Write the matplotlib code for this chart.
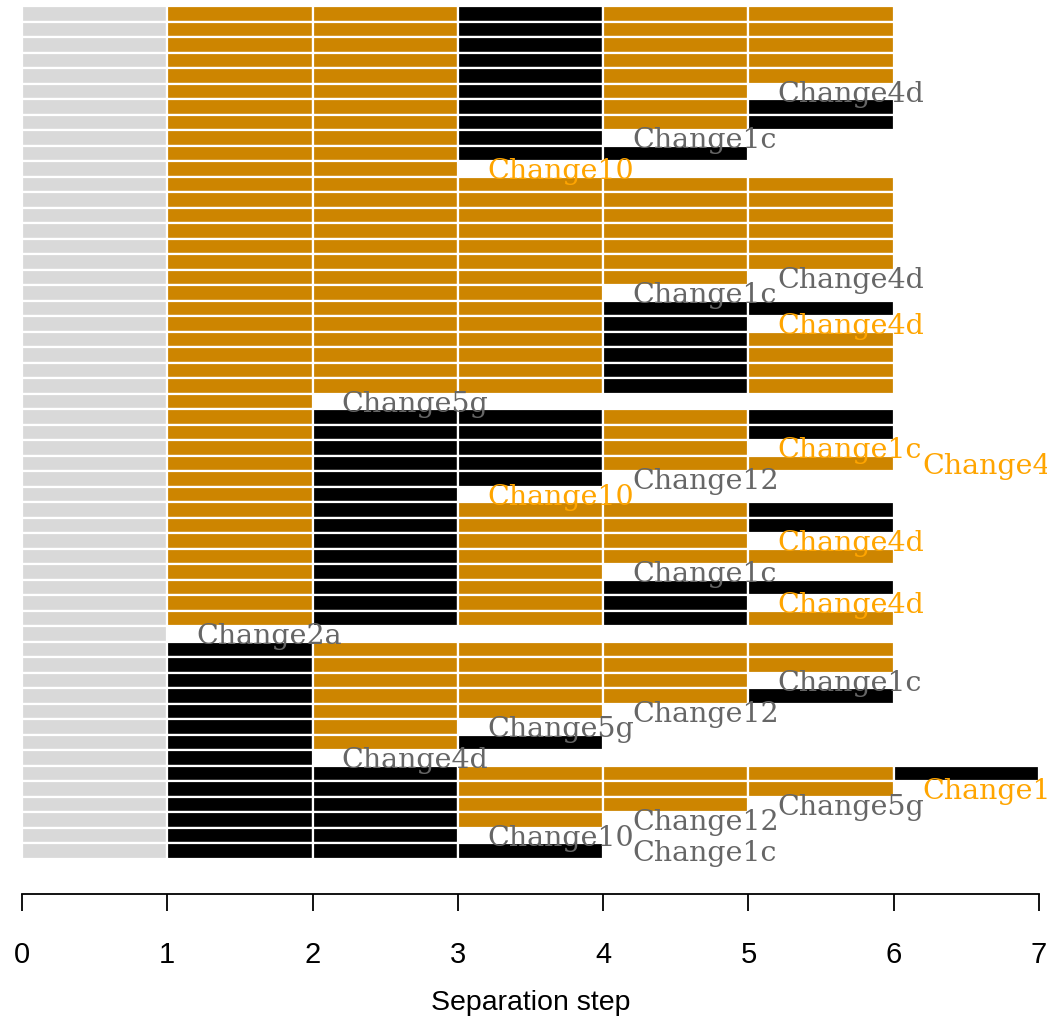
import matplotlib
matplotlib.use("Agg")
import matplotlib.pyplot as plt

# one string per row: G = grey start cell, o = orange cell, k = black cell
rows = [
    "Gookoo", "Gookoo", "Gookoo", "Gookoo", "Gookoo",
    "Gooko", "Gookok", "Gookok", "Gook", "Gookk",
    "Goo",
    "Gooooo", "Gooooo", "Gooooo", "Gooooo", "Gooooo", "Gooooo",
    "Goooo", "Gooo", "Goookk", "Goook",
    "Goooko", "Goooko", "Goooko", "Goooko",
    "Go",
    "Gokkok", "Gokkok", "Gokko", "Gokkoo", "Gokk", "Gok",
    "Gokook", "Gokook", "Gokoo", "Gokooo", "Goko", "Gokokk", "Gokok", "Gokoko",
    "G",
    "Gkoooo", "Gkoooo", "Gkooo", "Gkoook", "Gkoo", "Gko", "Gkok", "Gk",
    "Gkkoook", "Gkkooo", "Gkkoo", "Gkko", "Gkk", "Gkkk",
]

# label at the end of a row, colour g = grey, o = orange
labels = {
    5: ("Change4d", "g"), 8: ("Change1c", "g"), 10: ("Change10", "o"),
    17: ("Change4d", "g"), 18: ("Change1c", "g"), 20: ("Change4d", "o"),
    25: ("Change5g", "g"), 28: ("Change1c", "o"), 29: ("Change4d", "o"),
    30: ("Change12", "g"), 31: ("Change10", "o"), 34: ("Change4d", "o"),
    36: ("Change1c", "g"), 38: ("Change4d", "o"), 40: ("Change2a", "g"),
    43: ("Change1c", "g"), 45: ("Change12", "g"), 46: ("Change5g", "g"),
    48: ("Change4d", "g"), 50: ("Change10", "o"), 51: ("Change5g", "g"),
    52: ("Change12", "g"), 53: ("Change10", "g"), 54: ("Change1c", "g"),
}

cell_col = {"G": "#D9D9D9", "o": "#CD8500", "k": "black"}
text_col = {"g": "#666666", "o": "#FFA500"}

fig = plt.figure(figsize=(10.47, 10.21), dpi=100)
W, H = 1047, 1021
top_px, bot_px = 6, 894
ax = fig.add_axes([22 / W, 1 - bot_px / H, (1039 - 22) / W, (bot_px - top_px) / H])

pitch = 15.5
ax.set_xlim(0, 7)
ax.set_ylim((bot_px - top_px) / pitch, 0)

for i, r in enumerate(rows):
    for c, code in enumerate(r):
        ax.barh(i + 0.5, 1, left=c, height=1, color=cell_col[code],
                edgecolor="white", linewidth=1.6, align="center")
    if i in labels:
        txt, tc = labels[i]
        ax.text(len(r) + 0.2, i + 0.5, txt, color=text_col[tc],
                family="DejaVu Serif", fontsize=20.5, ha="left",
                va="center_baseline", clip_on=False)

for s in ["top", "left", "right"]:
    ax.spines[s].set_visible(False)
ax.spines["bottom"].set_linewidth(1.3)
ax.set_yticks([])
ax.set_xticks(range(8))
ax.tick_params(axis="x", length=12, width=1.3, pad=22, labelsize=21)
for lab in ax.get_xticklabels():
    lab.set_family("Liberation Sans")
ax.set_xlabel("Separation step", family="Liberation Sans", fontsize=20.5, labelpad=15)

fig.savefig("out.png", dpi=100)
